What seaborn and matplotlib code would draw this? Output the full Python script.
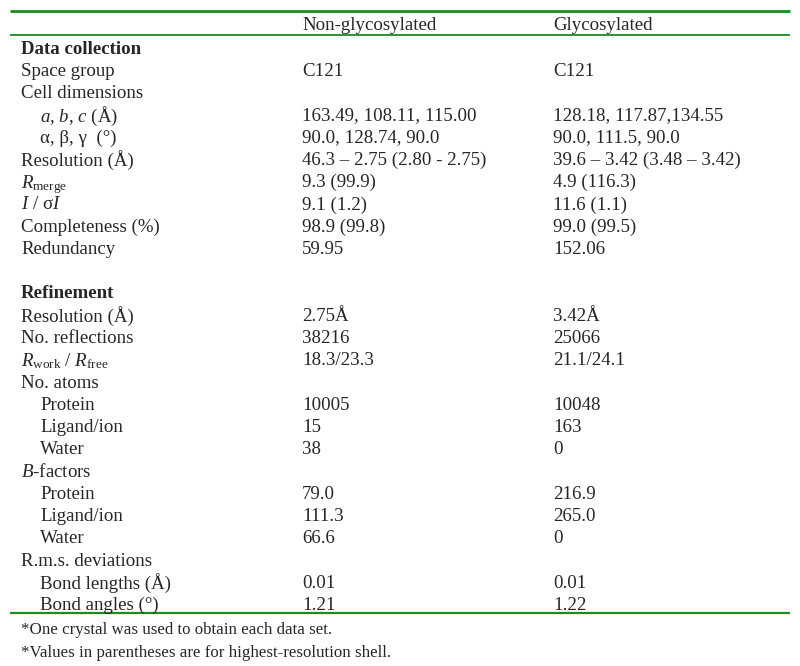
import matplotlib
matplotlib.use("Agg")
import matplotlib.pyplot as plt
import seaborn as sns

# table content
col_headers = ["Non-glycosylated", "Glycosylated"]
row_labels = [
    "Data collection", "Space group", "Cell dimensions",
    r"$\mathit{a}$, $\mathit{b}$, $\mathit{c}$ (Å)", "α, β, γ  (°)",
    "Resolution (Å)", r"$\mathit{R}_{\mathrm{merge}}$", r"$\mathit{I}$ / σ$\mathit{I}$",
    "Completeness (%)", "Redundancy", "",
    "Refinement", "Resolution (Å)", "No. reflections",
    r"$\mathit{R}_{\mathrm{work}}$ / $\mathit{R}_{\mathrm{free}}$", "No. atoms",
    "Protein", "Ligand/ion", "Water",
    r"$\mathit{B}$-factors", "Protein", "Ligand/ion", "Water",
    "R.m.s. deviations", "Bond lengths (Å)", "Bond angles (°)",
]
indent = [0, 0, 0, 1, 1, 0, 0, 0, 0, 0, 0,
          0, 0, 0, 0, 0, 1, 1, 1, 0, 1, 1, 1, 0, 1, 1]
bold_rows = ["Data collection", "Refinement"]
non_glyco = ["", "C121", "", "163.49, 108.11, 115.00", "90.0, 128.74, 90.0",
             "46.3 – 2.75 (2.80 - 2.75)", "9.3 (99.9)", "9.1 (1.2)", "98.9 (99.8)",
             "59.95", "", "", "2.75Å", "38216", "18.3/23.3", "",
             "10005", "15", "38", "", "79.0", "111.3", "66.6", "", "0.01", "1.21"]
glyco = ["", "C121", "", "128.18, 117.87,134.55", "90.0, 111.5, 90.0",
         "39.6 – 3.42 (3.48 – 3.42)", "4.9 (116.3)", "11.6 (1.1)", "99.0 (99.5)",
         "152.06", "", "", "3.42Å", "25066", "21.1/24.1", "",
         "10048", "163", "0", "", "216.9", "265.0", "0", "", "0.01", "1.22"]
footnotes = ["*One crystal was used to obtain each data set.",
             "*Values in parentheses are for highest-resolution shell."]

sns.set_theme(style="white")
plt.rcParams["font.family"] = ["Liberation Serif", "DejaVu Serif"]
plt.rcParams["mathtext.fontset"] = "custom"
plt.rcParams["mathtext.rm"] = "Liberation Serif"
plt.rcParams["mathtext.it"] = "Liberation Serif:italic"
plt.rcParams["mathtext.bf"] = "Liberation Serif:bold"

fig = plt.figure(figsize=(8, 6.66), dpi=100)
ax = fig.add_axes([0, 0, 1, 1])
ax.set_xlim(0, 800)
ax.set_ylim(666, 0)
ax.axis("off")

fs = 13.6
green = "#1f8a1f"
row0 = 47
step = 22.27
x_lab, x_ind, x_c1, x_c2 = 21, 40, 302, 553

ax.text(x_c1, 23, col_headers[0], fontsize=fs, va="center_baseline")
ax.text(x_c2, 23, col_headers[1], fontsize=fs, va="center_baseline")

for i, lab in enumerate(row_labels):
    y = row0 + i * step
    x = x_ind if indent[i] else x_lab
    ax.text(x, y, lab, fontsize=fs, va="center_baseline",
            fontweight="bold" if lab in bold_rows else "normal")
    ax.text(x_c1, y, non_glyco[i], fontsize=fs, va="center_baseline")
    ax.text(x_c2, y, glyco[i], fontsize=fs, va="center_baseline")

y_last = row0 + (len(row_labels) - 1) * step
# rules: top, below header, bottom
for yl, lw in [(11, 2.0), (35, 1.3), (y_last + 9, 1.6)]:
    ax.plot([10, 790], [yl, yl], color=green, lw=lw, solid_capstyle="butt")

for j, note in enumerate(footnotes):
    ax.text(x_lab, y_last + 24 + j * 23, note, fontsize=12.2, va="center_baseline")

fig.savefig("out.png", dpi=100)
